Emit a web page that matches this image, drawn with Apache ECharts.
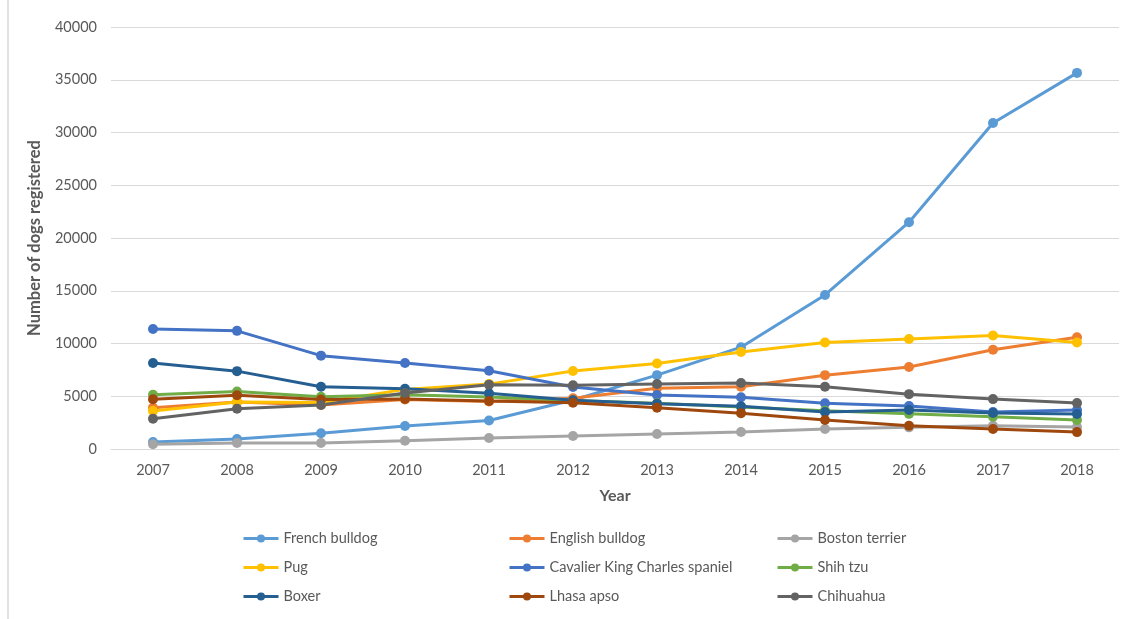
<!DOCTYPE html>
<html>
<head>
<meta charset="utf-8">
<script src="https://cdn.jsdelivr.net/npm/echarts@6/dist/echarts.min.js"></script>
<style>html,body{margin:0;padding:0;background:#fff}#c{width:1126px;height:619px}</style>
</head>
<body>
<div id="c"></div>
<script>
const years = ['2007','2008','2009','2010','2011','2012','2013','2014','2015','2016','2017','2018'];
const frenchBulldog = [660, 950, 1500, 2180, 2700, 4640, 7000, 9650, 14600, 21500, 30900, 35650];
const englishBulldog = [3900, 4450, 4170, 4700, 4500, 4800, 5750, 5900, 7000, 7770, 9400, 10600];
const bostonTerrier = [450, 570, 570, 780, 1040, 1230, 1420, 1610, 1900, 2050, 2200, 2080];
const pug = [3600, 4450, 4400, 5650, 6150, 7390, 8100, 9200, 10100, 10430, 10750, 10100];
const cavalier = [11370, 11200, 8850, 8150, 7420, 5870, 5120, 4900, 4330, 4080, 3500, 3700];
const shihTzu = [5150, 5450, 4950, 5150, 4930, 4600, 4330, 3980, 3620, 3330, 3050, 2750];
const boxer = [8150, 7380, 5900, 5700, 5280, 4620, 4300, 4050, 3500, 3700, 3420, 3320];
const lhasaApso = [4720, 5100, 4700, 4750, 4550, 4380, 3920, 3400, 2750, 2200, 1900, 1600];
const chihuahua = [2870, 3820, 4170, 5300, 6100, 6050, 6160, 6250, 5900, 5200, 4730, 4350];
const yTicks = [0, 5000, 10000, 15000, 20000, 25000, 30000, 35000, 40000];

const seriesDefs = [
  ['French bulldog', frenchBulldog, '#5B9BD5'],
  ['English bulldog', englishBulldog, '#ED7D31'],
  ['Boston terrier', bostonTerrier, '#A5A5A5'],
  ['Pug', pug, '#FFC000'],
  ['Cavalier King Charles spaniel', cavalier, '#4472C4'],
  ['Shih tzu', shihTzu, '#70AD47'],
  ['Boxer', boxer, '#255E91'],
  ['Lhasa apso', lhasaApso, '#9E480E'],
  ['Chihuahua', chihuahua, '#636363']
];

const font = 'Lato, "Open Sans", sans-serif';
const chart = echarts.init(document.getElementById('c'));

function legendCol(names, left) {
  return {
    data: names, orient: 'vertical', left: left, top: 531, padding: 0,
    itemWidth: 35, itemHeight: 10, itemGap: 14,
    lineStyle: {width: 3},
    textStyle: {fontFamily: font, fontSize: 14.5, color: '#595959', padding: [0, 0, 0, 0]},
    selectedMode: false
  };
}

chart.setOption({
  animation: false,
  backgroundColor: '#fff',
  grid: {left: 111, right: 7, top: 27, bottom: 170},
  graphic: [{type: 'line', shape: {x1: 8, y1: 0, x2: 8, y2: 619}, style: {stroke: '#d9d9d9', lineWidth: 1.5}}],
  legend: [
    legendCol(['French bulldog', 'Pug', 'Boxer'], 242),
    legendCol(['English bulldog', 'Cavalier King Charles spaniel', 'Lhasa apso'], 508),
    legendCol(['Boston terrier', 'Shih tzu', 'Chihuahua'], 776)
  ],
  xAxis: {
    type: 'category', data: years, boundaryGap: true,
    name: 'Year', nameLocation: 'middle', nameGap: 39,
    nameTextStyle: {fontFamily: font, fontSize: 16, fontWeight: 'bold', color: '#595959'},
    axisLine: {lineStyle: {color: '#d9d9d9', width: 1}},
    axisTick: {show: false},
    axisLabel: {fontFamily: font, fontSize: 14.5, color: '#595959', margin: 14}
  },
  yAxis: {
    type: 'value', min: yTicks[0], max: yTicks[yTicks.length - 1], interval: 5000,
    name: 'Number of dogs registered', nameLocation: 'middle', nameGap: 68, nameRotate: 90,
    nameTextStyle: {fontFamily: font, fontSize: 16.5, fontWeight: 'bold', color: '#595959'},
    axisLine: {show: false}, axisTick: {show: false},
    splitLine: {lineStyle: {color: '#d9d9d9', width: 1}},
    axisLabel: {fontFamily: font, fontSize: 14.5, color: '#595959', margin: 14, formatter: v => String(v)}
  },
  series: seriesDefs.map(([name, data, color]) => ({
    name, type: 'line', data,
    symbol: 'circle', symbolSize: 10,
    lineStyle: {color, width: 3},
    itemStyle: {color},
    emphasis: {disabled: true}
  }))
});
</script>
</body>
</html>
